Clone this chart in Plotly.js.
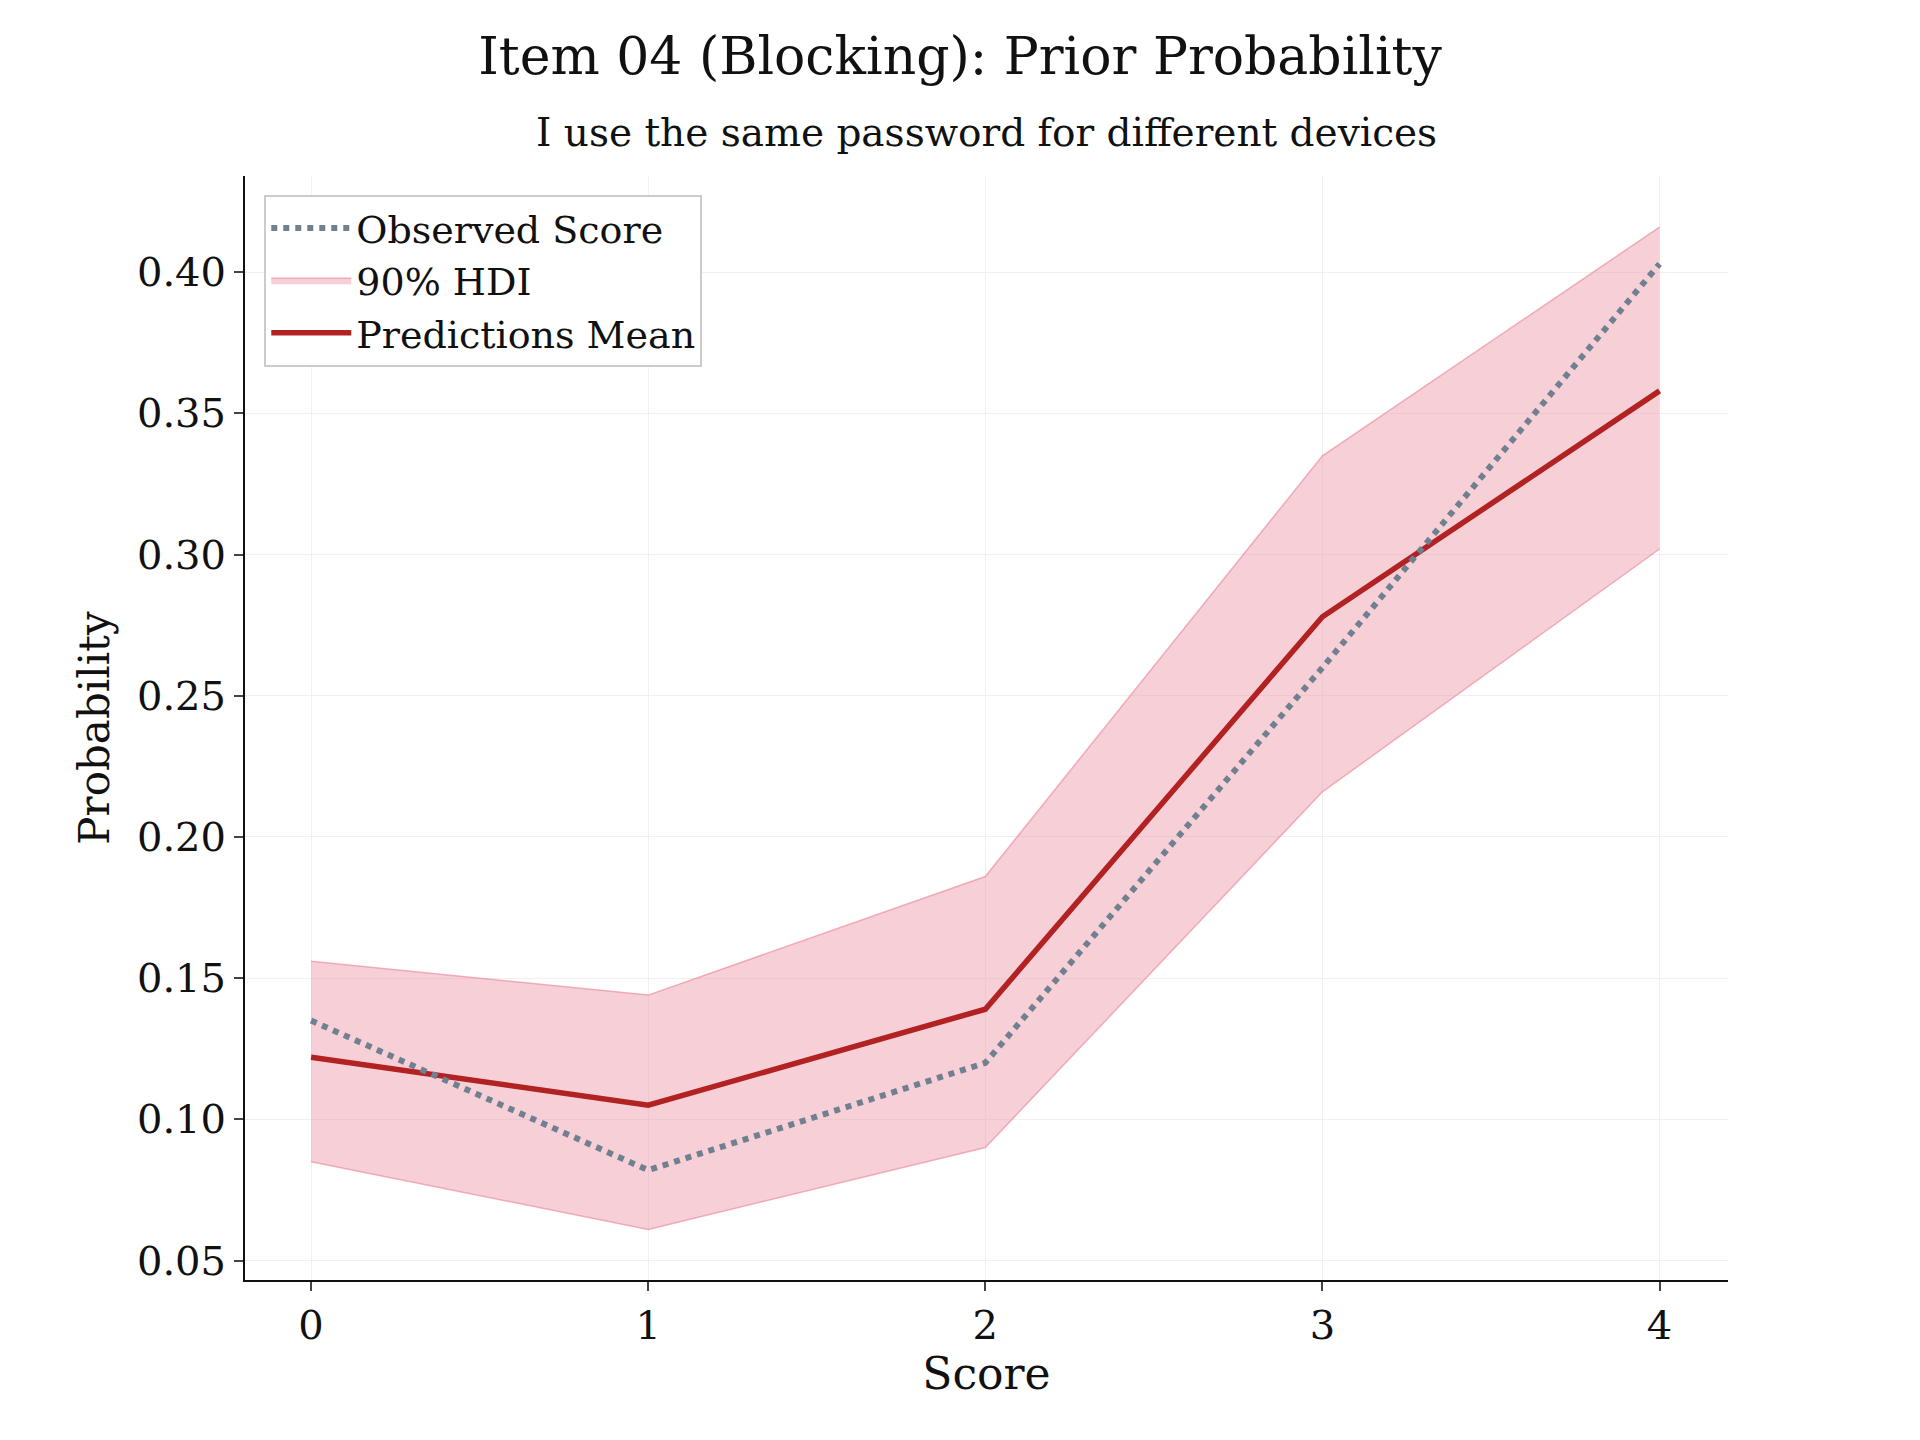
<!DOCTYPE html>
<html><head><meta charset="utf-8">
<script src="https://cdn.plot.ly/plotly-3.0.1.min.js"></script>
<style>body{margin:0}</style></head>
<body><div id="chart" style="width:1920px;height:1440px"></div>
<script>
const scores = [0, 1, 2, 3, 4];
const predMean = [0.122, 0.105, 0.139, 0.278, 0.358];
const hdiUpper = [0.156, 0.144, 0.186, 0.335, 0.416];
const hdiLower = [0.085, 0.061, 0.090, 0.216, 0.302];
const observed = [0.135, 0.082, 0.120, 0.260, 0.403];
const yTicks = [0.05, 0.10, 0.15, 0.20, 0.25, 0.30, 0.35, 0.40];

const font = 'DejaVu Serif, serif';
const traces = [
  {x: scores, y: hdiLower, mode: 'lines', line: {width: 1.5, color: 'rgba(235,130,150,0.6)'},
   showlegend: false, hoverinfo: 'skip'},
  {x: scores, y: hdiUpper, mode: 'lines', fill: 'tonexty', fillcolor: 'rgba(236,150,165,0.45)',
   line: {width: 1.5, color: 'rgba(235,130,150,0.6)'}, name: '90% HDI', legendrank: 2},
  {x: scores, y: predMean, mode: 'lines', line: {width: 5.5, color: '#b22222'}, name: 'Predictions Mean', legendrank: 1},
  {x: scores, y: observed, mode: 'lines', line: {width: 6, color: '#708090', dash: 'dot'}, name: 'Observed Score', legendrank: 3}
];
const layout = {
  width: 1920, height: 1440,
  paper_bgcolor: 'white', plot_bgcolor: 'white',
  font: {family: font, color: '#111', size: 40},
  margin: {l: 245, r: 192, t: 176, b: 160},
  title: {text: 'Item 04 (Blocking): Prior Probability', x: 0.5, xanchor: 'center', y: 0.961, yanchor: 'middle', font: {size: 52}},
  annotations: [{text: 'I use the same password for different devices', xref: 'paper', yref: 'paper',
    x: 0.5, y: 1.039, xanchor: 'center', yanchor: 'middle', showarrow: false, font: {size: 39}}],
  xaxis: {range: [-0.196, 4.203], tickvals: scores, ticks: 'outside', ticklen: 9, tickwidth: 2,
    showline: true, linecolor: '#111', linewidth: 2, showgrid: true, gridcolor: '#f0f0f0', zeroline: false,
    title: {text: 'Score', font: {size: 44}, standoff: 10}},
  yaxis: {range: [0.0431, 0.4341], tickvals: yTicks, tickformat: '.2f', ticks: 'outside', ticklen: 9, tickwidth: 2,
    showline: true, linecolor: '#111', linewidth: 2, showgrid: true, gridcolor: '#f0f0f0', zeroline: false,
    title: {text: 'Probability', font: {size: 42}, standoff: 14}},
  legend: {x: 0.013, y: 0.983, xanchor: 'left', yanchor: 'top', bgcolor: 'white', bordercolor: '#ccc',
    borderwidth: 2, font: {size: 38}, itemwidth: 80, tracegroupgap: 8},
  showlegend: true
};
Plotly.newPlot('chart', traces, layout, {displayModeBar: false});
</script></body></html>
